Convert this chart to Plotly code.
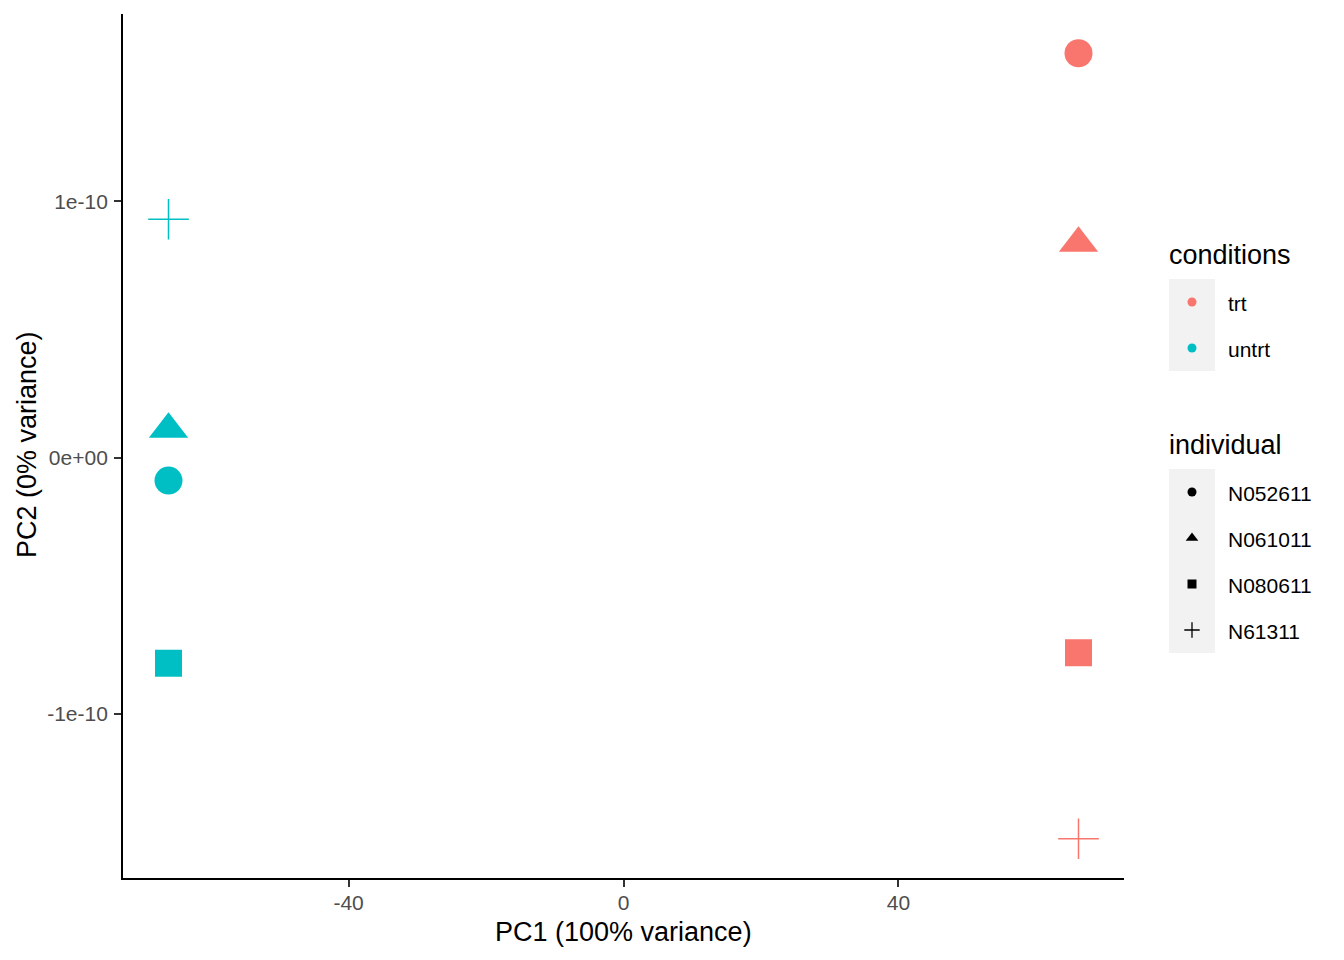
import plotly.graph_objects as go

# ---- data ----
conditions = ["trt", "trt", "trt", "trt", "untrt", "untrt", "untrt", "untrt"]
individuals = ["N052611", "N061011", "N080611", "N61311",
               "N052611", "N061011", "N080611", "N61311"]
pc1 = [66.2, 66.2, 66.2, 66.2, -66.2, -66.2, -66.2, -66.2]
pc2 = [1.578e-10, 0.836e-10, -0.762e-10, -1.488e-10,
       -0.090e-10, 0.110e-10, -0.803e-10, 0.930e-10]

cond_levels = ["trt", "untrt"]
ind_levels = ["N052611", "N061011", "N080611", "N61311"]
x_ticks = [-40, 0, 40]
x_ticktext = ["-40", "0", "40"]
y_ticks = [-1e-10, 0, 1e-10]
y_ticktext = ["-1e-10", "0e+00", "1e-10"]

# ---- styles ----
cond_colors = {"trt": "#F8766D", "untrt": "#00BFC4"}
ind_symbols = {"N052611": "circle", "N061011": "triangle-up",
               "N080611": "square", "N61311": "cross-thin"}
ind_sizes = {"N052611": 28, "N061011": 34, "N080611": 27, "N61311": 29}
key_sizes = {"N052611": 9, "N061011": 11, "N080611": 9, "N61311": 11}
FONT = "Liberation Sans, Arial, sans-serif"

# the page draws the figure 8px in from the top-left corner
OFF = 8
W, H = 1344 - OFF, 960 - OFF
ML, MT, MB = 123 - OFF, 14 - OFF, 82
panel_right = 1124 - OFF
plot_w = W - ML
plot_h = H - MT - MB
y_bottom = MT + plot_h

fig = go.Figure()

for ind in ind_levels:
    for cond in cond_levels:
        xs = [x for x, c, i in zip(pc1, conditions, individuals) if c == cond and i == ind]
        ys = [y for y, c, i in zip(pc2, conditions, individuals) if c == cond and i == ind]
        thin = ind_symbols[ind] == "cross-thin"
        fig.add_trace(go.Scatter(
            x=xs, y=ys, mode="markers", showlegend=False, hoverinfo="skip",
            marker=dict(symbol=ind_symbols[ind], size=ind_sizes[ind],
                        color=cond_colors[cond],
                        line=dict(color=cond_colors[cond], width=1.5 if thin else 0)),
            xaxis="x", yaxis="y"))

# axis ranges with 5% expansion like ggplot
xmin, xmax = min(pc1), max(pc1)
ymin, ymax = min(pc2), max(pc2)
xpad = (xmax - xmin) * 0.05
ypad = (ymax - ymin) * 0.05

axis_common = dict(showline=True, linecolor="black", linewidth=1.9, mirror=False,
                   ticks="outside", ticklen=7, tickwidth=1.6, tickcolor="#333333",
                   showgrid=False, zeroline=False,
                   tickfont=dict(family=FONT, size=21, color="#4D4D4D"))

# ---- manual legend on a pixel-coordinate overlay axis ----
leg_left = 1160 - OFF
key_x0, key_x1 = 1169 - OFF, 1215 - OFF
key_cx = (key_x0 + key_x1) / 2
key_h = 46
label_x = 1226 - OFF
cond_title_y = 255 - OFF
cond_top = 279 - OFF
ind_title_y = 445 - OFF
ind_top = 469 - OFF

shapes = [
    dict(type="rect", xref="x2", yref="y2", x0=key_x0, x1=key_x1,
         y0=cond_top, y1=cond_top + key_h * len(cond_levels),
         fillcolor="#F2F2F2", line=dict(width=0), layer="below"),
    dict(type="rect", xref="x2", yref="y2", x0=key_x0, x1=key_x1,
         y0=ind_top, y1=ind_top + key_h * len(ind_levels),
         fillcolor="#F2F2F2", line=dict(width=0), layer="below"),
]

TITLE_SIZE = 27
annotations = [
    dict(text="PC1 (100% variance)", xref="x", yref="paper", x=0,
         y=(y_bottom - (932 - OFF)) / plot_h, showarrow=False, xanchor="center",
         yanchor="middle", font=dict(family=FONT, size=TITLE_SIZE, color="black")),
    dict(text="PC2 (0% variance)", xref="paper", yref="paper", x=(27 - OFF - ML) / plot_w,
         y=(y_bottom - (445 - OFF)) / plot_h, textangle=-90, showarrow=False,
         xanchor="center", yanchor="middle",
         font=dict(family=FONT, size=TITLE_SIZE, color="black")),
    dict(text="conditions", xref="x2", yref="y2", x=key_x0 - 2, y=cond_title_y,
         showarrow=False, xanchor="left", yanchor="middle",
         font=dict(family=FONT, size=TITLE_SIZE, color="black")),
    dict(text="individual", xref="x2", yref="y2", x=key_x0 - 2, y=ind_title_y,
         showarrow=False, xanchor="left", yanchor="middle",
         font=dict(family=FONT, size=TITLE_SIZE, color="black")),
]

for k, cond in enumerate(cond_levels):
    cy = cond_top + key_h * k + key_h / 2
    fig.add_trace(go.Scatter(
        x=[key_cx], y=[cy], mode="markers", showlegend=False, hoverinfo="skip",
        marker=dict(symbol="circle", size=9, color=cond_colors[cond], line=dict(width=0)),
        xaxis="x2", yaxis="y2"))
    annotations.append(dict(text=cond, xref="x2", yref="y2", x=label_x, y=cy + 1,
                            showarrow=False, xanchor="left", yanchor="middle",
                            font=dict(family=FONT, size=21, color="black")))

for k, ind in enumerate(ind_levels):
    cy = ind_top + key_h * k + key_h / 2
    thin = ind_symbols[ind] == "cross-thin"
    fig.add_trace(go.Scatter(
        x=[key_cx], y=[cy], mode="markers", showlegend=False, hoverinfo="skip",
        marker=dict(symbol=ind_symbols[ind], size=key_sizes[ind], color="black",
                    line=dict(color="black", width=1.3 if thin else 0)),
        xaxis="x2", yaxis="y2"))
    annotations.append(dict(text=ind, xref="x2", yref="y2", x=label_x, y=cy + 1,
                            showarrow=False, xanchor="left", yanchor="middle",
                            font=dict(family=FONT, size=21, color="black")))

fig.update_layout(
    width=W, height=H,
    margin=dict(l=ML, r=0, t=MT, b=MB, pad=0),
    paper_bgcolor="white", plot_bgcolor="white",
    font=dict(family=FONT),
    xaxis=dict(domain=[0, (panel_right - ML) / plot_w], range=[xmin - xpad, xmax + xpad],
               tickvals=x_ticks, ticktext=x_ticktext, anchor="y",
               ticklabelstandoff=-2, **axis_common),
    yaxis=dict(domain=[0, 1], range=[ymin - ypad, ymax + ypad],
               tickvals=y_ticks, ticktext=y_ticktext, anchor="x",
               ticklabelstandoff=2, **axis_common),
    xaxis2=dict(domain=[(leg_left - ML) / plot_w, 1], range=[leg_left, W],
                visible=False, fixedrange=True, anchor="y2"),
    yaxis2=dict(domain=[0, 1], range=[y_bottom, MT], visible=False,
                fixedrange=True, anchor="x2"),
    shapes=shapes,
    annotations=annotations,
)

fig.write_html("out.html")
